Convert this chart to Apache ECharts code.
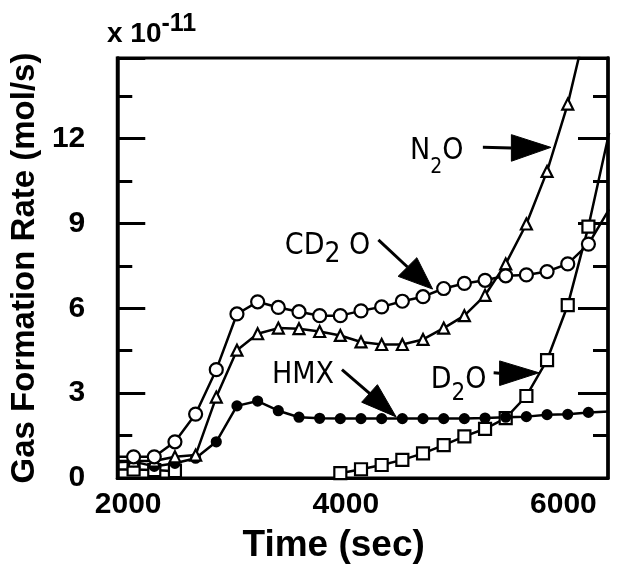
<!DOCTYPE html>
<html><head><meta charset="utf-8">
<script src="https://cdn.jsdelivr.net/npm/echarts@6/dist/echarts.min.js"></script>
<style>html,body{margin:0;padding:0;background:#fff}#c{width:626px;height:569px}</style>
</head><body><div id="c"></div>
<script>
// Time (sec) of each measurement
const times = [1860, 2050, 2240, 2430, 2620, 2810, 3000, 3190, 3380, 3570, 3760, 3950, 4140, 4330, 4520, 4710, 4900, 5090, 5280, 5470, 5660, 5850, 6040, 6230, 6420];
// Gas formation rates (x 10^-11 mol/s)
const cd2o = [0.75, 0.75, 0.75, 1.28, 2.26, 3.83, 5.80, 6.23, 6.03, 5.88, 5.74, 5.74, 5.91, 6.05, 6.25, 6.41, 6.70, 6.88, 6.99, 7.15, 7.18, 7.30, 7.57, 8.27, 9.5];
const n2o  = [0.6, 0.6, 0.6, 0.75, 0.81, 2.86, 4.52, 5.10, 5.30, 5.28, 5.18, 5.04, 4.81, 4.72, 4.72, 4.90, 5.30, 5.74, 6.46, 7.57, 8.98, 10.84, 13.22, 16.3, 20.5];
const hmx  = [0.55, 0.58, 0.41, 0.52, 0.70, 1.28, 2.55, 2.72, 2.38, 2.15, 2.11, 2.10, 2.10, 2.10, 2.10, 2.10, 2.10, 2.10, 2.12, 2.15, 2.17, 2.24, 2.25, 2.32, 2.35];
const d2o  = [0.3, 0.3, 0.28, 0.24, null, null, null, null, null, null, null, 0.17, 0.31, 0.46, 0.64, 0.87, 1.16, 1.47, 1.74, 2.12, 2.90, 4.17, 6.11, 8.89, 12.2];
const xTickLabels = [2000, 4000, 6000];
const yTickLabels = [0, 3, 6, 9, 12];
const yMajorStep = 3;

// annotation anchors in data coordinates (time, rate)
const annoLabels = [
  { text: '{m|N}{s1|2}{m|O}', at: [4590, 12.09] },
  { text: '{m|CD}{s2|2}{m| O}', at: [3440, 8.71] },
  { text: '{m|HMX}', at: [3322, 4.17] },
  { text: '{m|D}{s3|2}{m|O}', at: [4780, 4.0] }
];
const annoArrows = [
  { from: [5260, 11.69], base: [[5522, 12.14], [5522, 11.20]], tip: [5885, 11.69] },
  { from: [4300, 8.42], base: [[4481, 7.13], [4653, 7.79]], tip: [4798, 6.68] },
  { from: [3965, 3.83], base: [[4146, 2.68], [4291, 3.30]], tip: [4463, 2.16] },
  { from: [5359, 3.72], base: [[5414, 4.14], [5414, 3.27]], tip: [5776, 3.72] }
];

const pair = arr => times.map((t, i) => [t, arr[i]]);
const FONT = '"Liberation Sans", Arial, Helvetica, sans-serif';
const NARROW = '"Liberation Sans Narrow", "DejaVu Sans Condensed", "Liberation Sans", sans-serif';

const chart = echarts.init(document.getElementById('c'), null, { renderer: 'canvas' });

function mkSeries(name, data, symbol, size, fill) {
  return {
    name, type: 'line', data: pair(data), symbol, symbolSize: size,
    showAllSymbol: true, connectNulls: false, clip: true, animation: false,
    lineStyle: { color: '#000', width: 2.5 },
    itemStyle: { color: fill, borderColor: '#000', borderWidth: 2.2 },
    emphasis: { disabled: true }, z: 3
  };
}

const yCommon = {
  type: 'value', min: 0, max: 14.85, interval: yMajorStep,
  splitLine: { show: false },
  axisLine: { show: true, lineStyle: { color: '#000', width: 3.5 } },
  axisTick: { show: true, inside: true, length: 28, lineStyle: { color: '#000', width: 3 } },
  minorTick: { show: true, splitNumber: 2, length: 15, lineStyle: { color: '#000', width: 3 } }
};

chart.setOption({
  animation: false,
  backgroundColor: '#fff',
  grid: { left: 110, right: 18, top: 58, bottom: 84, show: true, borderColor: '#000', borderWidth: 3, backgroundColor: 'transparent' },
  xAxis: {
    type: 'value', min: 1900, max: 6410,
    name: 'Time (sec)', nameLocation: 'middle', nameGap: 49,
    nameTextStyle: { fontFamily: FONT, fontWeight: 'bold', fontSize: 37, color: '#000', padding: [0, 58, 0, 0] },
    splitLine: { show: false },
    axisLine: { show: true, lineStyle: { color: '#000', width: 3 } },
    axisTick: { show: false },
    axisLabel: { customValues: xTickLabels, formatter: v => String(v), margin: 12, fontFamily: FONT, fontWeight: 'bold', fontSize: 30, color: '#000' }
  },
  yAxis: [
    Object.assign({}, yCommon, {
      position: 'left',
      name: 'Gas Formation Rate (mol/s)', nameLocation: 'middle', nameGap: 66, nameRotate: 90,
      nameTextStyle: { fontFamily: FONT, fontWeight: 'bold', fontSize: 33, color: '#000' },
      axisLabel: {
        margin: 32, fontFamily: FONT, fontWeight: 'bold', fontSize: 30, color: '#000',
        formatter: v => (yTickLabels.indexOf(v) >= 0 ? String(v) : '')
      }
    }),
    Object.assign({}, yCommon, {
      position: 'right',
      axisTick: { show: true, inside: true, length: 30, lineStyle: { color: '#000', width: 3 } },
      axisLabel: { show: false }
    })
  ],
  series: [
    mkSeries('D2O', d2o, 'rect', 12, '#fff'),
    mkSeries('HMX', hmx, 'circle', 9, '#000'),
    mkSeries('N2O', n2o, 'triangle', 11, '#fff'),
    mkSeries('CD2O', cd2o, 'circle', 13, '#fff')
  ]
});

function px(p) { return chart.convertToPixel({ seriesIndex: 0 }, p); }

// subscript styles: the taller line box pushes the small digit below the baseline
const subDefs = {
  s1: { fontSize: 21, lineHeight: 42 },
  s2: { fontSize: 28, lineHeight: 37 },
  s3: { fontSize: 24, lineHeight: 41 }
};
const rich = { m: { fontFamily: NARROW, fontSize: 30, lineHeight: 30, verticalAlign: 'top', fill: '#000', color: '#000' } };
Object.keys(subDefs).forEach(k => {
  rich[k] = { fontFamily: NARROW, fontSize: subDefs[k].fontSize, lineHeight: subDefs[k].lineHeight,
    verticalAlign: 'bottom', fill: '#000', color: '#000' };
});

const graphics = [];
annoLabels.forEach(a => {
  const p = px(a.at);
  graphics.push({ type: 'text', x: p[0], y: p[1], z: 10,
    style: { text: a.text, rich, align: 'left', verticalAlign: 'top', fill: '#000', font: '30px ' + NARROW } });
});
annoArrows.forEach(a => {
  const f = px(a.from), b1 = px(a.base[0]), b2 = px(a.base[1]), t = px(a.tip);
  const bm = [(b1[0] + b2[0]) / 2, (b1[1] + b2[1]) / 2];
  graphics.push({ type: 'line', z: 10, shape: { x1: f[0], y1: f[1], x2: bm[0], y2: bm[1] }, style: { stroke: '#000', lineWidth: 3 } });
  graphics.push({ type: 'polygon', z: 10, shape: { points: [b1, b2, t] }, style: { fill: '#000', stroke: '#000', lineWidth: 1 } });
});
// exponent label
graphics.push({ type: 'text', x: 107, y: 12, z: 10,
  style: {
    text: '{b|x 10}{e|-11}', verticalAlign: 'top', align: 'left',
    rich: {
      b: { fontFamily: FONT, fontWeight: 'bold', fontSize: 28, lineHeight: 28, verticalAlign: 'bottom', fill: '#000' },
      e: { fontFamily: FONT, fontWeight: 'bold', fontSize: 25, lineHeight: 36, verticalAlign: 'top', fill: '#000' }
    },
    fill: '#000'
  } });

chart.setOption({ graphic: graphics });
</script></body></html>
